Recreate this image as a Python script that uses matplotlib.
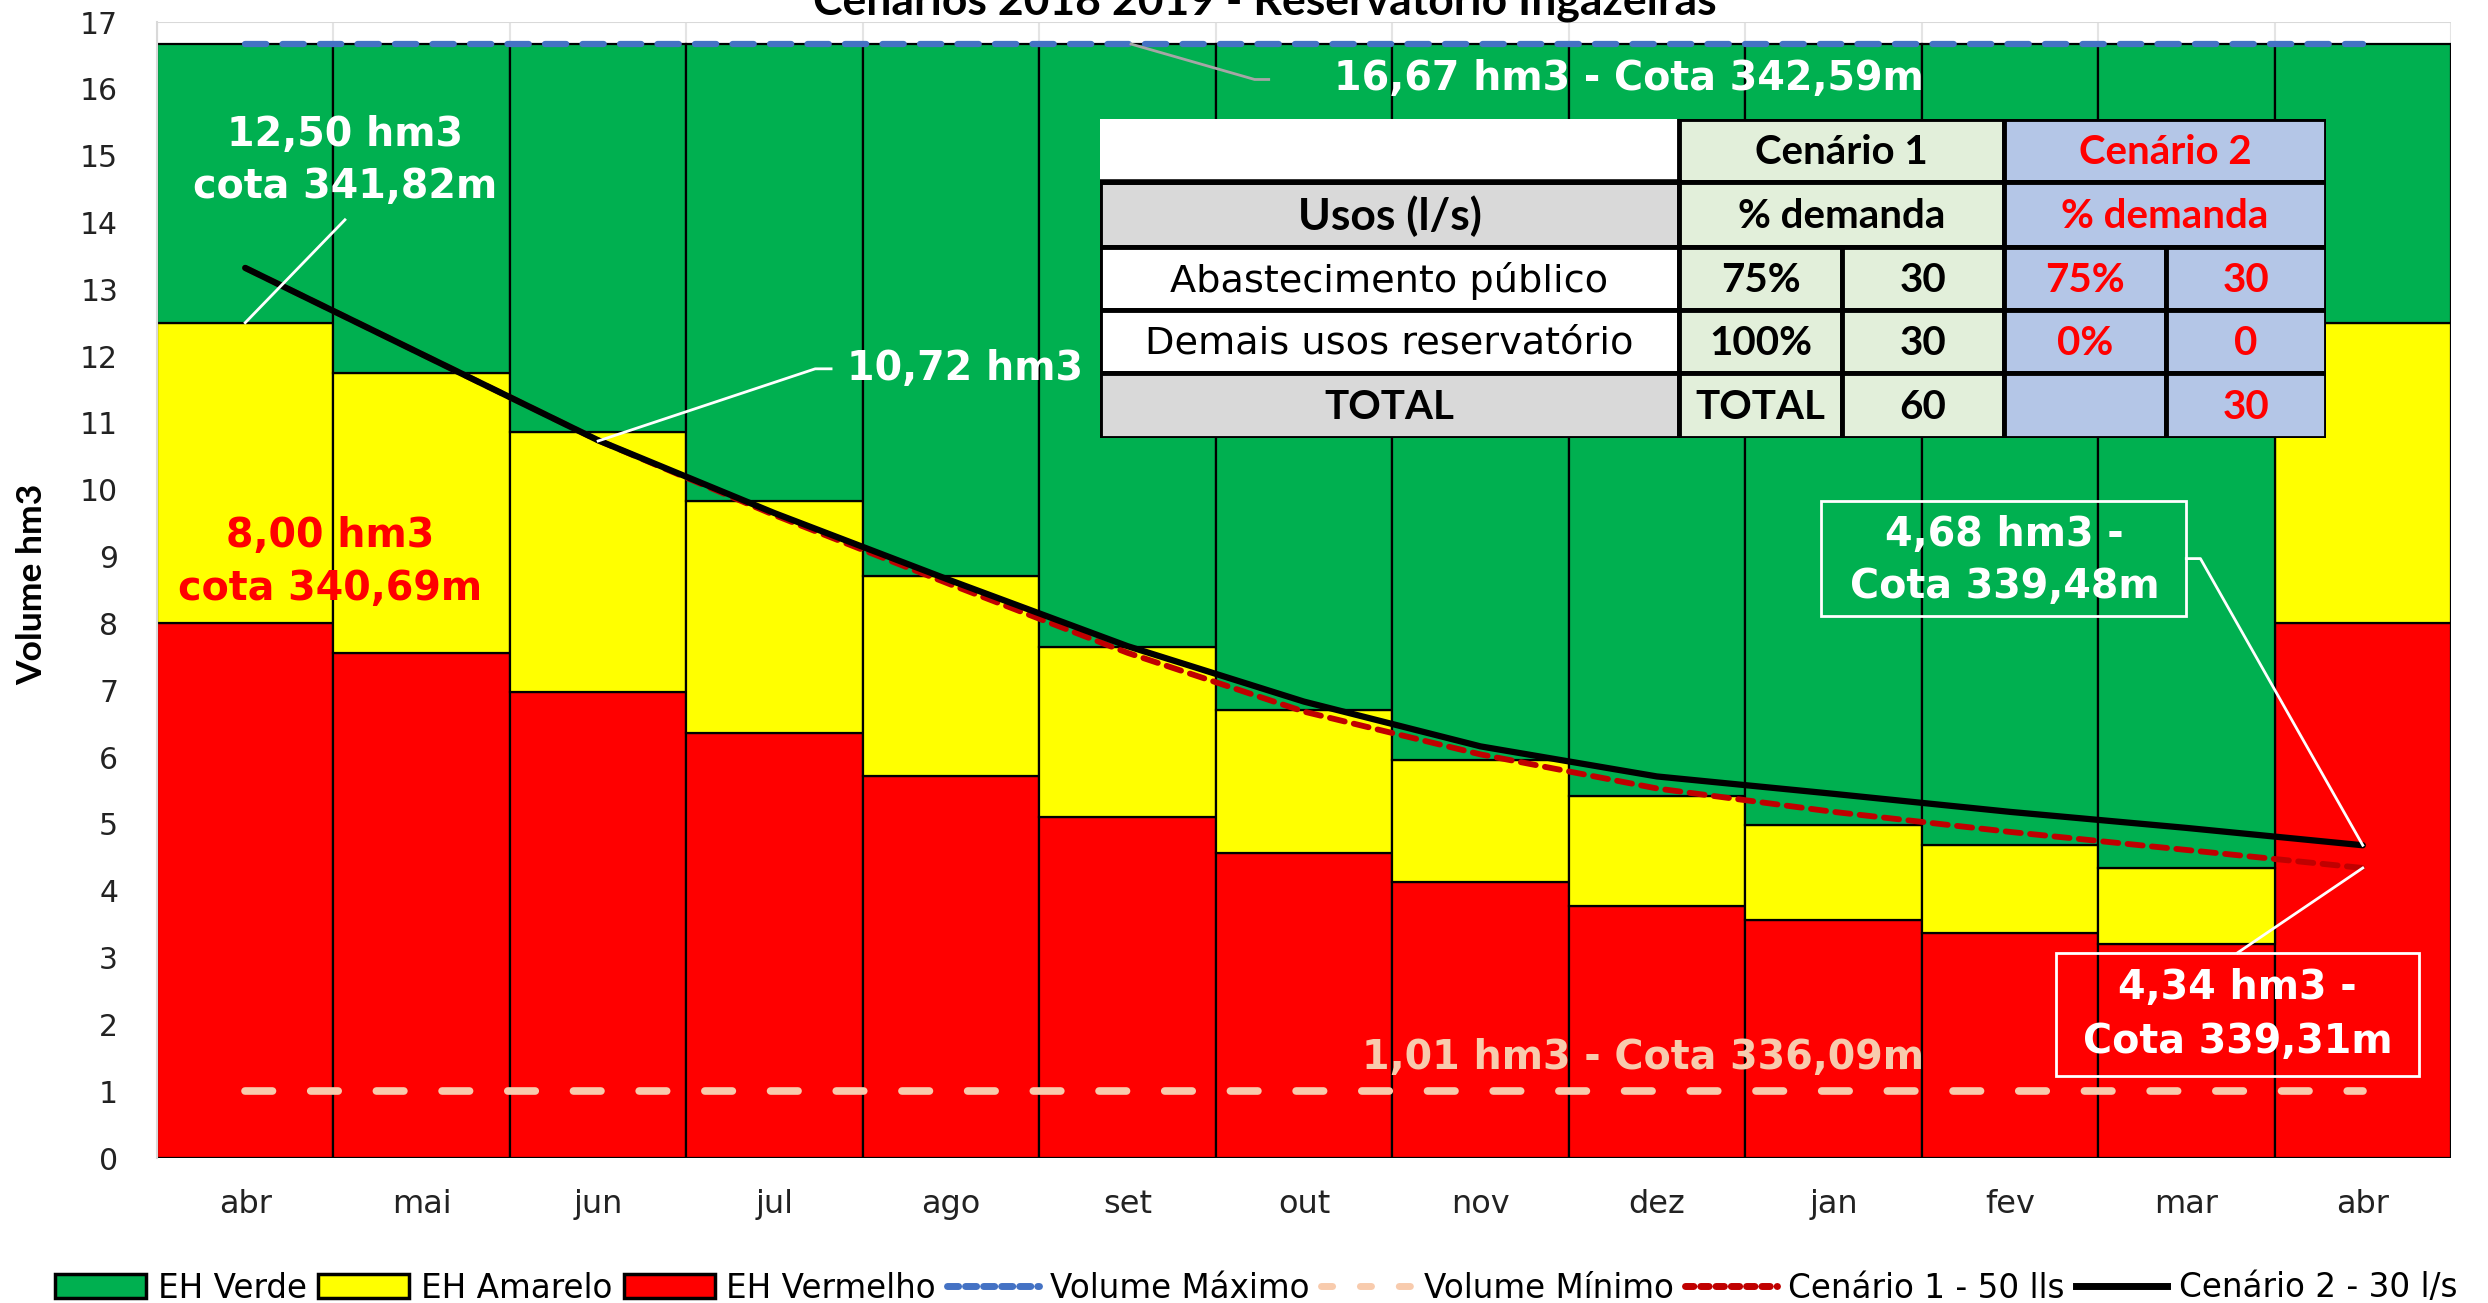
import matplotlib
matplotlib.use("Agg")
import matplotlib.pyplot as plt
from matplotlib.patches import Patch, Rectangle
from matplotlib.lines import Line2D
import numpy as np

plt.rcParams['font.family'] = ['Lato', 'DejaVu Sans']
WIDE = ['DejaVu Sans']

# ---------------- data ----------------
months = ["abr", "mai", "jun", "jul", "ago", "set", "out", "nov", "dez", "jan", "fev", "mar", "abr"]
eh_vermelho_top = [8.00, 7.55, 6.98, 6.36, 5.72, 5.10, 4.56, 4.13, 3.77, 3.56, 3.37, 3.20, 8.00]
eh_amarelo_top = [12.50, 11.75, 10.87, 9.83, 8.71, 7.64, 6.70, 5.96, 5.41, 4.99, 4.68, 4.34, 12.50]
eh_verde_top = [16.67] * 13
volume_maximo = [16.67] * 13
volume_minimo = [1.01] * 13
cenario1 = [13.32, 12.03, 10.74, 9.62, 8.58, 7.56, 6.68, 6.04, 5.53, 5.18, 4.88, 4.61, 4.34]
cenario2 = [13.32, 12.03, 10.74, 9.65, 8.64, 7.66, 6.83, 6.16, 5.71, 5.45, 5.18, 4.94, 4.68]

series_labels = ["EH Verde", "EH Amarelo", "EH Vermelho", "Volume Máximo",
                 "Volume Mínimo", "Cenário 1 - 50 lls", "Cenário 2 - 30 l/s"]

title = "Cenários 2018 2019 - Reservatório Ingazeiras"
ylabel = "Volume hm3"

table_rows = [
    ["", "Cenário 1", "", "Cenário 2", ""],
    ["Usos (l/s)", "% demanda", "", "% demanda", ""],
    ["Abastecimento público", "75%", "30", "75%", "30"],
    ["Demais usos reservatório", "100%", "30", "0%", "0"],
    ["TOTAL", "TOTAL", "60", "", "30"],
]

# ---------------- figure ----------------
W, H = 2488, 1303
fig = plt.figure(figsize=(W / 100, H / 100), dpi=100)
ax = fig.add_axes([157 / W, 145 / H, (2451 - 157) / W, (1281 - 145) / H])

GREEN, YELLOW, RED = "#00B050", "#FFFF00", "#FF0000"
x = np.arange(len(months))
red_h = np.array(eh_vermelho_top)
yel_h = np.array(eh_amarelo_top) - red_h
grn_h = np.array(eh_verde_top) - np.array(eh_amarelo_top)

ax.bar(x, red_h, width=1.0, color=RED, edgecolor="black", linewidth=1.6, zorder=2)
ax.bar(x, yel_h, bottom=red_h, width=1.0, color=YELLOW, edgecolor="black", linewidth=1.6, zorder=2)
ax.bar(x, grn_h, bottom=eh_amarelo_top, width=1.0, color=GREEN, edgecolor="black", linewidth=1.6, zorder=2)

ax.plot(x, volume_maximo, color="#4472C4", lw=4.5, dashes=(3.4, 2.6), dash_capstyle="round", zorder=4)
ax.plot(x, volume_minimo, color="#F8CBAD", lw=5.5, dashes=(3.6, 5.0), dash_capstyle="round", zorder=4)
ax.plot(x, cenario1, color="#C00000", lw=4.2, dashes=(2.6, 1.6), dash_capstyle="round", zorder=5)
ax.plot(x, cenario2, color="black", lw=4.5, solid_capstyle="round", zorder=6)

ax.set_xlim(-0.5, 12.5)
ax.set_ylim(0, 17)
ax.set_yticks(range(0, 18))
ax.set_xticks(x)
ax.set_xticklabels(months)
ax.set_xticks(np.arange(-0.5, 12.6, 0.5), minor=True)
ax.tick_params(axis="both", which="both", length=0)
ax.tick_params(axis="y", pad=28, labelcolor="#222222")
ax.tick_params(axis="x", pad=22, labelcolor="#222222")
for lab in ax.get_yticklabels():
    lab.set_fontfamily(WIDE)
    lab.set_fontsize(21.5)
for lab in ax.get_xticklabels():
    lab.set_fontfamily(WIDE)
    lab.set_fontsize(23)
ax.grid(True, axis="y", color="#D9D9D9", lw=1.5, zorder=0)
ax.grid(True, axis="x", which="minor", color="#E4E4E4", lw=1.5, zorder=0)
for s in ["top", "right", "bottom"]:
    ax.spines[s].set_visible(False)
ax.spines["left"].set_color("#D9D9D9")
ax.spines["left"].set_linewidth(1.5)
ax.set_axisbelow(True)

fig.text(32 / W, 1 - 584 / H, ylabel, rotation=90, ha="center", va="center",
         fontsize=25.5, fontweight="bold")
fig.text(1265 / W, 1 - 14 / H, title, ha="center", va="baseline", fontsize=32, fontweight="bold")

# ---------------- annotations ----------------
AF = 28.5
akw = dict(fontsize=AF, fontweight="bold", family=WIDE, va="center", zorder=8)
ax.text(0.565, 15.31, "12,50 hm3", color="white", ha="center", **akw)
ax.text(0.565, 14.53, "cota 341,82m", color="white", ha="center", **akw)
ax.plot([0.0, 0.565], [12.5, 14.04], color="white", lw=2, zorder=7)

ax.text(0.48, 9.31, "8,00 hm3", color="#FF0000", ha="center", **akw)
ax.text(0.48, 8.52, "cota 340,69m", color="#FF0000", ha="center", **akw)

ax.text(3.41, 11.81, "10,72 hm3", color="white", ha="left", **akw)
ax.plot([2.0, 3.23, 3.32], [10.73, 11.81, 11.81], color="white", lw=2, zorder=7)

ax.text(7.84, 16.15, "16,67 hm3 - Cota 342,59m", color="white", ha="center", **akw)
ax.plot([5.02, 5.72, 5.8], [16.67, 16.14, 16.14], color="#A6A6A6", lw=2, zorder=7)

ax.text(7.92, 1.50, "1,01 hm3 - Cota 336,09m", color="#F8CBAD", ha="center", **akw)

ax.add_patch(Rectangle((8.93, 8.11), 11.0 - 8.93, 9.83 - 8.11, fill=False, edgecolor="white", lw=2, zorder=8))
ax.text(9.97, 9.32, "4,68 hm3 -", color="white", ha="center", **akw)
ax.text(9.97, 8.55, "Cota 339,48m", color="white", ha="center", **akw)
ax.plot([11.0, 11.08, 12.0], [8.97, 8.97, 4.68], color="white", lw=2, zorder=7)

ax.add_patch(Rectangle((10.26, 1.23), 12.32 - 10.26, 3.07 - 1.23, fill=False, edgecolor="white", lw=2, zorder=8))
ax.text(11.29, 2.54, "4,34 hm3 -", color="white", ha="center", **akw)
ax.text(11.29, 1.74, "Cota 339,31m", color="white", ha="center", **akw)
ax.plot([11.29, 12.0], [3.07, 4.34], color="white", lw=2, zorder=7)

# ---------------- table ----------------
cols = [1100, 1679, 1842, 2004, 2166, 2326]
rows = [119, 182, 247, 310, 373, 438]
tax = fig.add_axes([cols[0] / W, 1 - rows[-1] / H, (cols[-1] - cols[0]) / W, (rows[-1] - rows[0]) / H])
tax.set_xlim(cols[0], cols[-1])
tax.set_ylim(rows[-1], rows[0])
tax.axis("off")
LG, LB, GR = "#E2EFDA", "#B4C6E7", "#D9D9D9"

def cell(c0, c1, r, text, bg, color="black", bold=False, size=29):
    x0, x1 = cols[c0], cols[c1]
    y0, y1 = rows[r], rows[r + 1]
    tax.add_patch(Rectangle((x0, y0), x1 - x0, y1 - y0, facecolor=bg,
                            edgecolor="black", lw=3.5, zorder=1))
    if text:
        if bold:
            tax.text((x0 + x1) / 2, (y0 + y1) / 2 + 2, text, ha="center", va="center", fontsize=size,
                     color=color, fontweight="bold", zorder=3)
        else:
            tax.text((x0 + x1) / 2, (y0 + y1) / 2 + 2, text, ha="center", va="center", fontsize=27.5,
                     color=color, family=WIDE, zorder=3)

# row 0
tax.add_patch(Rectangle((cols[0], rows[0]), cols[1] - cols[0], rows[1] - rows[0], facecolor="white",
                        edgecolor="none", zorder=1))
tax.plot([cols[0], cols[1]], [rows[1], rows[1]], color="black", lw=4, zorder=2)
cell(1, 3, 0, table_rows[0][1], LG, bold=True)
cell(3, 5, 0, table_rows[0][3], LB, color="#FF0000", bold=True)
# row 1
cell(0, 1, 1, table_rows[1][0], GR, bold=True, size=32)
cell(1, 3, 1, table_rows[1][1], LG, bold=True)
cell(3, 5, 1, table_rows[1][3], LB, color="#FF0000", bold=True)
# rows 2-4
for r in (2, 3, 4):
    cell(0, 1, r, table_rows[r][0], GR if r == 4 else "white", bold=(r == 4))
    cell(1, 2, r, table_rows[r][1], LG, bold=True)
    cell(2, 3, r, table_rows[r][2], LG, bold=True)
    cell(3, 4, r, table_rows[r][3], LB, color="#FF0000", bold=True)
    cell(4, 5, r, table_rows[r][4], LB, color="#FF0000", bold=True)

# ---------------- legend ----------------
handles = [
    Patch(facecolor=GREEN, edgecolor="black", lw=2.5),
    Patch(facecolor=YELLOW, edgecolor="black", lw=2.5),
    Patch(facecolor=RED, edgecolor="black", lw=2.5),
    Line2D([], [], color="#4472C4", lw=5, dashes=(1.6, 1.0), dash_capstyle="round"),
    Line2D([], [], color="#F8CBAD", lw=5, dashes=(1.6, 4.0), dash_capstyle="round"),
    Line2D([], [], color="#C00000", lw=5, dashes=(1.2, 1.0), dash_capstyle="round"),
    Line2D([], [], color="black", lw=5),
]
fig.legend(handles, series_labels, loc="center", bbox_to_anchor=(1256 / W, 15 / H), ncol=7,
           frameon=False, prop={"family": WIDE, "size": 23.5}, handlelength=2.8, handleheight=0.75,
           handletextpad=0.35, columnspacing=0.35, borderaxespad=0, borderpad=0)

fig.savefig("out.png", dpi=100)
